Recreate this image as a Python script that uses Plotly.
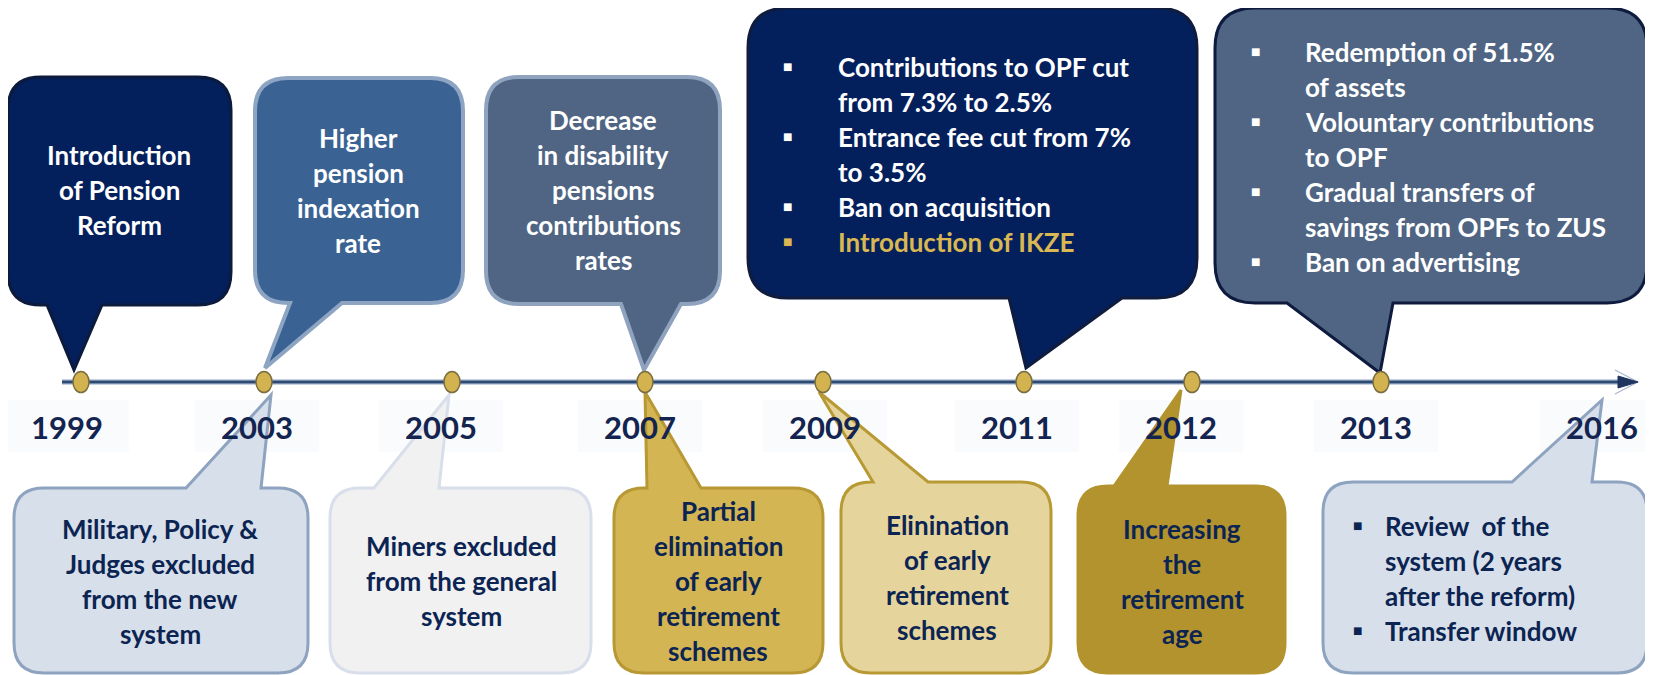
import plotly.graph_objects as go

# ---------------- data ----------------
years = ["1999", "2003", "2005", "2007", "2009", "2011", "2012", "2013", "2016"]
timeline_pos = [81, 264, 452, 645, 823, 1024, 1192, 1381, 1602]
has_dot = [True, True, True, True, True, True, True, True, False]

top_years = ["1999", "2003", "2007", "2011", "2013"]
top_texts = [
    ["Introduction", "of Pension", "Reform"],
    ["Higher", "pension", "indexation", "rate"],
    ["Decrease", "in disability", "pensions", "contributions", "rates"],
    [["Contributions to OPF cut", "from 7.3% to 2.5%"],
     ["Entrance fee cut from 7%", "to 3.5%"],
     ["Ban on acquisition"],
     ["Introduction of IKZE"]],
    [["Redemption of 51.5%", "of assets"],
     ["Volountary contributions", "to OPF"],
     ["Gradual transfers of", "savings from OPFs to ZUS"],
     ["Ban on advertising"]],
]
top_bulleted = [False, False, False, True, True]

bottom_years = ["2003", "2005", "2007", "2009", "2012", "2016"]
bottom_texts = [
    ["Military, Policy &", "Judges excluded", "from the new", "system"],
    ["Miners excluded", "from the general", "system"],
    ["Partial", "elimination", "of early", "retirement", "schemes"],
    ["Elinination", "of early", "retirement", "schemes"],
    ["Increasing", "the", "retirement", "age"],
    [["Review  of the", "system (2 years", "after the reform)"],
     ["Transfer window"]],
]
bottom_bulleted = [False, False, False, False, False, True]

# ---------------- styling / layout ----------------
W, H = 1653, 675
OFF = 8              # default page body margin of the browser
FONT = "Lato, Carlito, Calibri, 'Open Sans', sans-serif"
NAVY_TXT = "#0B2452"
LINE_Y = 382
LINE_SP = 35
TXT_SIZE = 26
TXT_DY = -1
YEAR_SIZE = 31
label_dx = [-14, -7, -11, -5, 2, -7, -11, -5, 0]

top_geom = [
    dict(x0=8, y0=77, x1=231, y1=305, r=33, ta=47, tb=102, tipdx=-7, tipy=370,
         fill="#03205C", line="#0C1A3C", lw=3, tx=119, ty=156),
    dict(x0=255, y0=78, x1=463, y1=303, r=33, ta=290, tb=342, tipdx=1, tipy=368,
         fill="#3A6394", line="#8DA4C2", lw=4, tx=358, ty=139),
    dict(x0=486, y0=77, x1=720, y1=304, r=33, ta=621, tb=681, tipdx=-1, tipy=370,
         fill="#4F6583", line="#8FA3BF", lw=4, tx=603, ty=121),
    dict(x0=748, y0=8, x1=1197, y1=298, r=40, ta=1009, tb=1122, tipdx=2, tipy=368,
         fill="#03205C", line="#101C3E", lw=3, tx=836, ty=68, bx=787),
    dict(x0=1215, y0=8, x1=1647, y1=303, r=40, ta=1287, tb=1393, tipdx=-1, tipy=373,
         fill="#4F6583", line="#0E1B3F", lw=3, tx=1303, ty=53, bx=1255),
]
bottom_geom = [
    dict(x0=14, y0=488, x1=308, y1=673, r=30, ta=186, tb=261, tipdx=7, tipy=395,
         fill="#D7DFEA", line="#8EA3BF", lw=3, tx=160, ty=530),
    dict(x0=330, y0=488, x1=591, y1=673, r=30, ta=374, tb=439, tipdx=-3, tipy=395,
         fill="#F1F1F2", line="#D8DFEA", lw=3, tx=461, ty=547),
    dict(x0=614, y0=488, x1=823, y1=673, r=30, ta=647, tb=701, tipdx=0, tipy=392,
         fill="#D4B553", line="#B79834", lw=3, tx=718, ty=512),
    dict(x0=841, y0=482, x1=1051, y1=673, r=30, ta=873, tb=928, tipdx=-4, tipy=392,
         fill="#E6D49D", line="#B89A35", lw=3, tx=947, ty=526),
    dict(x0=1078, y0=486, x1=1285, y1=673, r=30, ta=1114, tb=1167, tipdx=-11, tipy=390,
         fill="#B3932E", line="#B3932E", lw=3, tx=1182, ty=530),
    dict(x0=1323, y0=482, x1=1647, y1=673, r=30, ta=1512, tb=1592, tipdx=0, tipy=400,
         fill="#D7DFEA", line="#8EA3BF", lw=3, tx=1383, ty=527, bx=1357),
]


def callout_path(g, tipx, side):
    x0, y0, x1, y1, r = g["x0"], g["y0"], g["x1"], g["y1"], g["r"]
    ta, tb, ty = g["ta"], g["tb"], g["tipy"]
    p = f"M {x0 + r},{y0} "
    if side == "top":
        p += f"L {ta},{y0} L {tipx},{ty} L {tb},{y0} "
    p += f"L {x1 - r},{y0} Q {x1},{y0} {x1},{y0 + r} L {x1},{y1 - r} Q {x1},{y1} {x1 - r},{y1} "
    if side == "bottom":
        p += f"L {tb},{y1} L {tipx},{ty} L {ta},{y1} "
    p += f"L {x0 + r},{y1} Q {x0},{y1} {x0},{y1 - r} L {x0},{y0 + r} Q {x0},{y0} {x0 + r},{y0} Z"
    return p


pos_of = dict(zip(years, timeline_pos))

fig = go.Figure()
shapes = []
annotations = []

# faint label backgrounds
for p, dx in zip(timeline_pos, label_dx):
    shapes.append(dict(type="rect", xref="x", yref="y", x0=p + dx - 62, x1=p + dx + 62, y0=400, y1=452,
                       fillcolor="#FAFBFC", line=dict(width=0), layer="below"))

# timeline line
shapes.append(dict(type="line", xref="x", yref="y", x0=62, x1=1630, y0=LINE_Y, y1=LINE_Y,
                   line=dict(color="#8FA3BF", width=5)))
shapes.append(dict(type="line", xref="x", yref="y", x0=62, x1=1630, y0=LINE_Y, y1=LINE_Y,
                   line=dict(color="#2E4A72", width=2.5)))
# arrow head
shapes.append(dict(type="path", xref="x", yref="y",
                   path=f"M 1615,{LINE_Y - 12} L 1638,{LINE_Y} L 1615,{LINE_Y + 12}",
                   line=dict(color="#A9B8CC", width=1.2)))
shapes.append(dict(type="path", xref="x", yref="y",
                   path=f"M 1618,{LINE_Y - 6} L 1638,{LINE_Y} L 1618,{LINE_Y + 6} Z",
                   fillcolor="#1E3560", line=dict(color="#1E3560", width=1)))

# callouts
for yr, g in zip(top_years, top_geom):
    shapes.append(dict(type="path", xref="x", yref="y",
                       path=callout_path(g, pos_of[yr] + g["tipdx"], "bottom"),
                       fillcolor=g["fill"], line=dict(color=g["line"], width=g["lw"])))
for yr, g in zip(bottom_years, bottom_geom):
    shapes.append(dict(type="path", xref="x", yref="y",
                       path=callout_path(g, pos_of[yr] + g["tipdx"], "top"),
                       fillcolor=g["fill"], line=dict(color=g["line"], width=g["lw"])))

# dots
for p, d in zip(timeline_pos, has_dot):
    if d:
        shapes.append(dict(type="circle", xref="x", yref="y", x0=p - 8, x1=p + 8,
                           y0=LINE_Y - 10.5, y1=LINE_Y + 10.5,
                           fillcolor="#D3B34F", line=dict(color="#7A6E40", width=1.5)))


def add_text(x, y, txt, color, size=TXT_SIZE, anchor="center"):
    annotations.append(dict(x=x, y=y + TXT_DY, xref="x", yref="y", text=f"<b>{txt}</b>",
                            showarrow=False, xanchor=anchor, yanchor="middle",
                            font=dict(family=FONT, size=size, color=color)))


def add_block(g, lines, bulleted, color, bullet_color, special=None):
    yy = g["ty"]
    if not bulleted:
        for ln in lines:
            add_text(g["tx"], yy, ln, color)
            yy += LINE_SP
    else:
        for item in lines:
            c = color
            bc = bullet_color
            if special and item[0] == special:
                c = "#D9B752"
                bc = "#D9B752"
            annotations.append(dict(x=g["bx"], y=yy - 2, xref="x", yref="y", text="■",
                                    showarrow=False, xanchor="center", yanchor="middle",
                                    font=dict(family="DejaVu Sans", size=10, color=bc)))
            for ln in item:
                add_text(g["tx"], yy, ln, c, anchor="left")
                yy += LINE_SP


for g, lines, b in zip(top_geom, top_texts, top_bulleted):
    add_block(g, lines, b, "white", "white", special="Introduction of IKZE")
for g, lines, b in zip(bottom_geom, bottom_texts, bottom_bulleted):
    add_block(g, lines, b, NAVY_TXT, NAVY_TXT)

# year labels
for y, p, dx in zip(years, timeline_pos, label_dx):
    add_text(p + dx, 428, y, "#12244F", size=YEAR_SIZE)

fig.update_layout(
    width=W - OFF, height=H - OFF,
    margin=dict(l=0, r=0, t=0, b=0),
    paper_bgcolor="white", plot_bgcolor="white",
    xaxis=dict(range=[OFF, W], visible=False, fixedrange=True),
    yaxis=dict(range=[H, OFF], visible=False, fixedrange=True),
    shapes=shapes, annotations=annotations, showlegend=False,
)
fig.write_html("out.html")
